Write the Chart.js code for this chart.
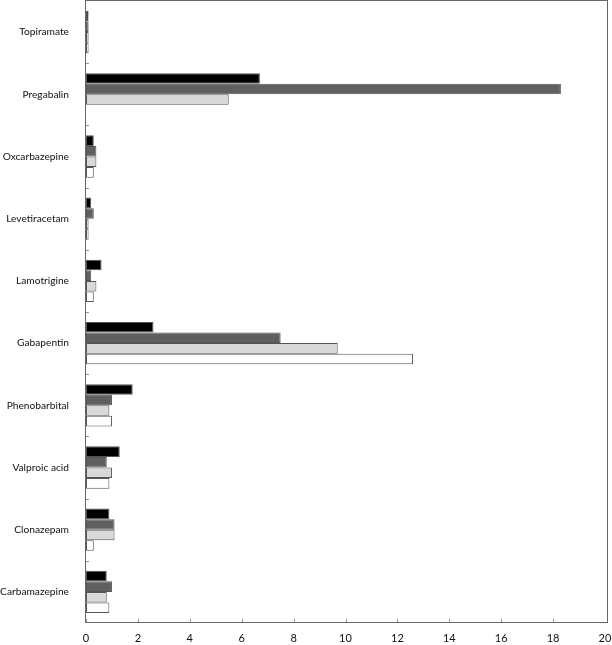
<!DOCTYPE html>
<html>
<head>
<meta charset="utf-8">
<script src="https://cdn.jsdelivr.net/npm/chart.js@4"></script>
<style>
  html, body { margin: 0; padding: 0; background: #fff; }
  #wrap { width: 612px; height: 645px; position: relative; }
</style>
</head>
<body>
<div id="wrap"><canvas id="drugs"></canvas></div>
<script>
"use strict";

// drugs, top to bottom
const drugs = ['Topiramate', 'Pregabalin', 'Oxcarbazepine', 'Levetiracetam', 'Lamotrigine',
  'Gabapentin', 'Phenobarbital', 'Valproic acid', 'Clonazepam', 'Carbamazepine'];

// four series (no legend in the original)
const seriesBlack = [0.1, 6.7, 0.3, 0.2, 0.6, 2.6, 1.8, 1.3, 0.9, 0.8];
const seriesDark  = [0.1, 18.3, 0.4, 0.3, 0.2, 7.5, 1.0, 0.8, 1.1, 1.0];
const seriesLight = [0.1, 5.5, 0.4, 0.1, 0.4, 9.7, 0.9, 1.0, 1.1, 0.8];
const seriesWhite = [0.1, null, 0.3, 0.1, 0.3, 12.6, 1.0, 0.9, 0.3, 0.9];

const xTicks = [0, 2, 4, 6, 8, 10, 12, 14, 16, 18, 20];

// frame + little inward tick marks
const framePlugin = {
  id: 'frame',
  afterDraw(chart) {
    const ctx = chart.ctx;
    const a = chart.chartArea;
    const xs = chart.scales.x, ys = chart.scales.y;
    ctx.save();
    ctx.lineWidth = 1;
    ctx.strokeStyle = '#999';
    for (const v of xTicks.slice(0, -1)) {
      const px = Math.round(xs.getPixelForValue(v)) + 0.5;
      ctx.beginPath();
      ctx.moveTo(px, a.bottom);
      ctx.lineTo(px, a.bottom - 4);
      ctx.stroke();
    }
    for (let i = 0; i < drugs.length - 1; i++) {
      const py = Math.round((ys.getPixelForValue(i) + ys.getPixelForValue(i + 1)) / 2) + 0.5;
      ctx.beginPath();
      ctx.moveTo(a.left, py);
      ctx.lineTo(a.left + 3, py);
      ctx.stroke();
    }
    // box runs a few px past the 20 mark, like the original
    ctx.strokeStyle = '#666';
    ctx.strokeRect(Math.round(a.left) - 0.5, Math.round(a.top) - 0.5,
      Math.round(a.right - a.left) + 3, Math.round(a.bottom - a.top));
    ctx.restore();
  }
};

new Chart(document.getElementById('drugs'), {
  type: 'bar',
  data: {
    labels: drugs,
    datasets: [
      { label: 'Series 1', data: seriesBlack, backgroundColor: '#000000' },
      { label: 'Series 2', data: seriesDark, backgroundColor: '#606060' },
      { label: 'Series 3', data: seriesLight, backgroundColor: '#d9d9d9' },
      { label: 'Series 4', data: seriesWhite, backgroundColor: '#ffffff' }
    ]
  },
  options: {
    indexAxis: 'y',
    responsive: true,
    maintainAspectRatio: false,
    animation: false,
    layout: { padding: { top: 1, right: 7, left: 0, bottom: 0 } },
    datasets: {
      bar: {
        borderColor: '#555',
        borderWidth: 1,
        borderSkipped: false,
        categoryPercentage: 0.68,
        barPercentage: 1
      }
    },
    plugins: {
      legend: { display: false },
      tooltip: { enabled: false }
    },
    scales: {
      x: {
        min: 0,
        max: 20,
        afterFit: (scale) => {
          scale.height = 22;
          scale.paddingLeft = 0;
          scale.paddingRight = 0;
        },
        afterBuildTicks: (scale) => { scale.ticks = xTicks.map(v => ({ value: v })); },
        grid: { display: false, drawTicks: false },
        border: { display: false },
        ticks: {
          padding: 9,
          color: '#111',
          font: { family: 'Lato', size: 11 },
          maxRotation: 0
        }
      },
      y: {
        afterFit: (scale) => {
          scale.width = 86;
          scale.paddingTop = 0;
          scale.paddingBottom = 0;
        },
        grid: { display: false, drawTicks: false },
        border: { display: false },
        ticks: {
          padding: 17,
          color: '#111',
          font: { family: 'Lato', size: 10.2 }
        }
      }
    }
  },
  plugins: [framePlugin]
});
</script>
</body>
</html>
